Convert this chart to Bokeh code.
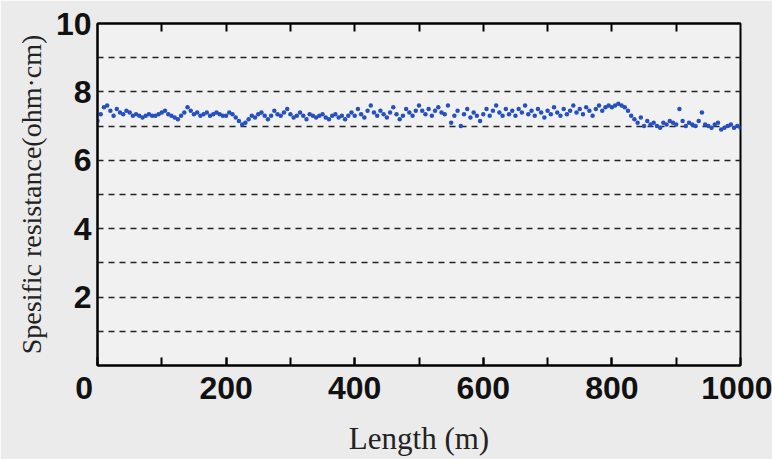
from bokeh.plotting import figure
from bokeh.models import Range1d, LinearAxis, FixedTicker
from bokeh.embed import file_html
from bokeh.resources import INLINE

# Data: specific resistance along the length (every 5 m)
length_m = list(range(0, 1001, 5))
resistance = [
    7.15, 7.35, 7.55, 7.6, 7.45, 7.3, 7.5, 7.4, 7.35, 7.45,
    7.4, 7.3, 7.35, 7.3, 7.25, 7.3, 7.35, 7.3, 7.3, 7.35,
    7.4, 7.45, 7.35, 7.3, 7.25, 7.2, 7.3, 7.4, 7.55, 7.45,
    7.35, 7.4, 7.3, 7.35, 7.4, 7.3, 7.35, 7.4, 7.35, 7.3,
    7.3, 7.4, 7.35, 7.25, 7.15, 7.05, 7.1, 7.2, 7.3, 7.25,
    7.35, 7.4, 7.3, 7.2, 7.3, 7.45, 7.35, 7.3, 7.4, 7.5,
    7.35, 7.25, 7.3, 7.4, 7.3, 7.2, 7.35, 7.3, 7.25, 7.3,
    7.35, 7.25, 7.2, 7.3, 7.35, 7.25, 7.3, 7.2, 7.3, 7.4,
    7.3, 7.5, 7.35, 7.25, 7.45, 7.6, 7.4, 7.3, 7.45, 7.35,
    7.25, 7.4, 7.55, 7.35, 7.2, 7.3, 7.5, 7.4, 7.3, 7.45,
    7.6, 7.45, 7.35, 7.5, 7.3, 7.45, 7.55, 7.4, 7.35, 7.6,
    7.1, 7.3, 7.45, 7.0, 7.35, 7.5, 7.25, 7.4, 7.3, 7.15,
    7.35, 7.5, 7.3, 7.45, 7.6, 7.4, 7.3, 7.5, 7.35, 7.45,
    7.3, 7.5, 7.4, 7.6, 7.35, 7.45, 7.3, 7.5, 7.4, 7.25,
    7.45, 7.35, 7.55, 7.4, 7.3, 7.5, 7.35, 7.45, 7.6, 7.4,
    7.5, 7.35, 7.55, 7.45, 7.3, 7.5, 7.6, 7.45, 7.55, 7.6,
    7.55, 7.6, 7.65, 7.6, 7.55, 7.45, 7.3, 7.2, 7.1, 7.25,
    7.0, 7.15, 7.05, 7.1, 7.0, 6.95, 7.1, 7.05, 7.15, 7.1,
    7.05, 7.5, 7.15, 7.0, 7.1, 7.05, 7.0, 7.15, 7.4, 7.05,
    7.0, 6.95, 7.05, 7.1, 6.9, 6.95, 7.0, 7.05, 6.95, 7.0,
    6.95,
]
x_ticks = [0, 200, 400, 600, 800, 1000]
x_tick_labels = {0: "0\u00a0\u00a0\u00a0"}  # corner "0" sits left of the axis origin
x_minor_ticks = [100, 200, 300, 400, 500, 600, 700, 800, 900]
y_ticks = [2, 4, 6, 8, 10]
grid_levels = [1, 2, 3, 4, 5, 6, 7, 8, 9]
x_title = "Length (m)"
y_title = "Spesific resistance(ohm\u00b7cm)"

TICK_FONT = "Liberation Sans"
TITLE_FONT = "Liberation Serif"

p = figure(width=772, height=459, output_backend="svg", toolbar_location=None,
           x_range=Range1d(0, 1000), y_range=Range1d(0, 10),
           min_border_left=97, min_border_right=32, min_border_top=23, min_border_bottom=94)
p.background_fill_color = "#f1f1f1"
p.border_fill_color = "#ebebeb"
p.outline_line_color = "black"
p.outline_line_width = 2

# grid lines
p.xgrid.visible = False
p.ygrid.ticker = FixedTicker(ticks=grid_levels)
p.ygrid.grid_line_color = "#222222"
p.ygrid.grid_line_width = 1.5
p.ygrid.grid_line_dash = "6 5"

# bottom axis
xa = p.xaxis[0]
xa.ticker = FixedTicker(ticks=x_ticks, minor_ticks=x_minor_ticks)
xa.major_label_overrides = x_tick_labels
xa.major_tick_in = 8
xa.major_tick_out = 0
xa.minor_tick_in = 8
xa.minor_tick_out = 0
xa.axis_line_width = 2
xa.major_tick_line_width = 2
xa.minor_tick_line_width = 2
xa.major_label_text_font = TICK_FONT
xa.major_label_text_font_style = "bold"
xa.major_label_text_font_size = "32px"
xa.major_label_text_color = "#111111"
xa.major_label_standoff = 4
xa.axis_label = x_title
xa.axis_label_text_font = TITLE_FONT
xa.axis_label_text_font_style = "normal"
xa.axis_label_text_font_size = "31px"
xa.axis_label_text_color = "#222222"
xa.axis_label_standoff = 12

# left axis
ya = p.yaxis[0]
ya.ticker = FixedTicker(ticks=y_ticks)
ya.major_tick_in = 0
ya.major_tick_out = 0
ya.minor_tick_line_color = None
ya.axis_line_width = 2
ya.major_label_text_font = TICK_FONT
ya.major_label_text_font_style = "bold"
ya.major_label_text_font_size = "32px"
ya.major_label_text_color = "#111111"
ya.major_label_standoff = 6
ya.axis_label = y_title
ya.axis_label_text_font = TITLE_FONT
ya.axis_label_text_font_style = "normal"
ya.axis_label_text_font_size = "28px"
ya.axis_label_text_color = "#222222"
ya.axis_label_standoff = 6

# top axis with inward ticks only (minor ticks, no labels)
ta = LinearAxis(ticker=FixedTicker(ticks=[], minor_ticks=x_minor_ticks),
                minor_tick_in=8, minor_tick_out=0, minor_tick_line_width=2,
                major_tick_in=0, major_tick_out=0,
                axis_line_width=2, major_label_standoff=0)
p.add_layout(ta, "above")

# data
p.scatter(length_m, resistance, size=4.5, fill_color="#2650c0", line_color=None)

open("out.html", "w").write(file_html(p, INLINE))
